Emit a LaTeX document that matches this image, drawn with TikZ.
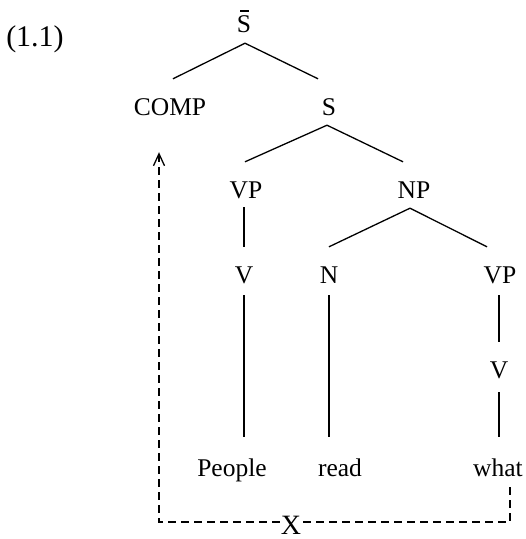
\documentclass[tikz,border=0pt]{standalone}
\usepackage{fontspec}
\setmainfont{Liberation Serif}
\usetikzlibrary{arrows.meta}
\begin{document}
\begin{tikzpicture}[x=1pt,y=-1pt,
  lab/.style={inner sep=0pt,text height=17pt,text depth=0pt,anchor=base,font=\fontsize{25.5}{30}\selectfont},
  edge/.style={line width=1.3pt},
  mv/.style={line width=1.3pt,dash pattern=on 8pt off 5pt}]
\useasboundingbox (0,0) rectangle (526,539);
\node[anchor=base,inner sep=0pt,font=\fontsize{30}{34}\selectfont] (num) at (35,46) {(1.1)};
\node[lab] (sbar) at (244,32) {S};
\node[lab] (comp) at (170,115) {COMP};
\node[lab] (s) at (329,115) {S};
\node[lab] (vpa) at (246,198) {VP};
\node[lab] (np) at (414,198) {NP};
\node[lab] (va) at (244,283) {V};
\node[lab] (n) at (329,283) {N};
\node[lab] (vpb) at (500,283) {VP};
\node[lab] (vb) at (499,378) {V};
\node[lab] (people) at (232,476) {People};
\node[lab] (read) at (340,476) {read};
\node[lab] (what) at (498,476) {what};
\node[lab,inner xsep=1pt,font=\fontsize{28}{32}\selectfont] (x) at (291,534) {X};
% bar over S
\draw[line width=1.4pt] ([xshift=-4pt,yshift=4pt]sbar.north) -- ([xshift=5pt,yshift=4pt]sbar.north);
% tree edges
\draw[edge] ([xshift=1pt,yshift=-11pt]sbar.south) -- ([xshift=3pt,yshift=19pt]comp.north);
\draw[edge] ([xshift=1pt,yshift=-11pt]sbar.south) -- ([xshift=-11pt,yshift=19pt]s.north);
\draw[edge] ([xshift=-2pt,yshift=-10pt]s.south) -- ([xshift=-1pt,yshift=19pt]vpa.north);
\draw[edge] ([xshift=-2pt,yshift=-10pt]s.south) -- ([xshift=-11pt,yshift=19pt]np.north);
\draw[edge] ([xshift=-4pt,yshift=-10pt]np.south) -- ([yshift=19pt]n.north);
\draw[edge] ([xshift=-4pt,yshift=-10pt]np.south) -- ([xshift=-13pt,yshift=19pt]vpb.north);
\draw[edge] ([xshift=-2pt,yshift=-9pt]vpa.south) -- ([yshift=19pt]va.north);
\draw[edge] ([yshift=-12pt]va.south) -- ([yshift=22pt]people.north-|va.south);
\draw[edge] ([yshift=-12pt]n.south) -- ([yshift=22pt]read.north-|n.south);
\draw[edge] ([xshift=-1pt,yshift=-12pt]vpb.south) -- ([yshift=19pt]vb.north);
\draw[edge] ([yshift=-14pt]vb.south) -- ([yshift=22pt]what.north-|vb.south);
% movement path
\coordinate (rc) at (510,522);
\coordinate (lc) at (159,522);
\draw[mv] ([xshift=12pt,yshift=-11pt]what.south) -- (rc) -- (rc-|x.east);
\draw[mv,-{Straight Barb[length=12pt,width=11pt,line width=1.3pt]}] (lc-|x.west) -- (lc) -- ([xshift=-11pt,yshift=-37pt]comp.south);
\end{tikzpicture}
\end{document}
